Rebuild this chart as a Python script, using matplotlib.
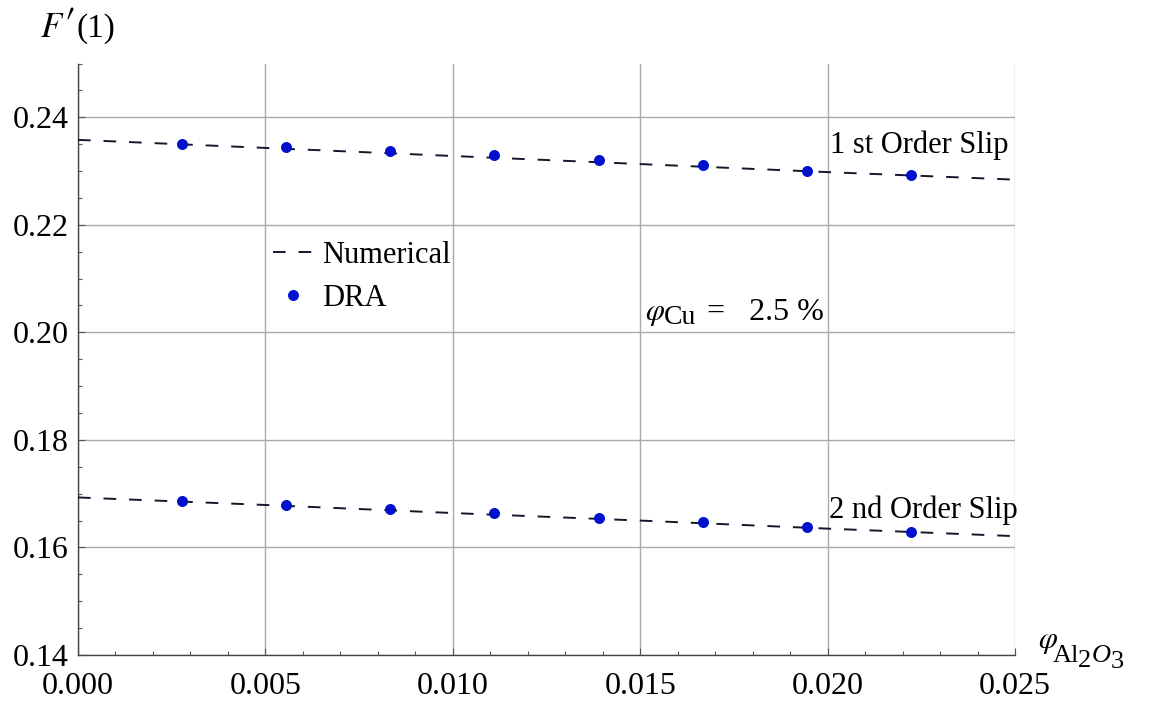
import numpy as np
import matplotlib
matplotlib.use('Agg')
import matplotlib.pyplot as plt
from matplotlib.ticker import MultipleLocator, FormatStrFormatter

plt.rcParams['font.family'] = ['Liberation Serif', 'DejaVu Serif']
plt.rcParams['mathtext.fontset'] = 'stix'
plt.rcParams['lines.scale_dashes'] = False

# --- data ---
phi_al2o3 = [0.00278, 0.00556, 0.00833, 0.01111, 0.01389, 0.01667, 0.01944, 0.02222]
dra_first = [0.2351, 0.2344, 0.2337, 0.2330, 0.2320, 0.2311, 0.2301, 0.2292]
dra_second = [0.1687, 0.1679, 0.1672, 0.1664, 0.1655, 0.1648, 0.1638, 0.1629]

num_x = [0.0, 0.005, 0.010, 0.015, 0.020, 0.025]
num_first = [0.2358, 0.2343, 0.2328, 0.2313, 0.2298, 0.2284]
num_second = [0.1693, 0.1679, 0.1664, 0.1650, 0.1635, 0.1621]

x_ticks = [0.0, 0.005, 0.010, 0.015, 0.020, 0.025]
y_ticks = [0.14, 0.16, 0.18, 0.20, 0.22, 0.24]

line_color = '#15152e'
dot_color = '#0010cc'
fs_tick = 23
fs = 22

fig = plt.figure(figsize=(11.5, 7.01), dpi=100, facecolor='white')
ax = fig.add_axes([78 / 1150, 46 / 701, 937 / 1150, 591.5 / 701])

# numerical solutions (dashed)
ln1, = ax.plot(num_x, num_first, color=line_color, lw=1.4, dashes=(9.1, 9.3), zorder=3)
ax.plot(num_x, num_second, color=line_color, lw=1.4, dashes=(9.1, 9.3), zorder=3)

# DRA points
dots1, = ax.plot(phi_al2o3, dra_first, 'o', color=dot_color, ms=6.9, zorder=4)
ax.plot(phi_al2o3, dra_second, 'o', color=dot_color, ms=6.9, zorder=4)

# axes styling (Mathematica look)
ax.set_xlim(0, 0.025)
ax.set_ylim(0.14, 0.25)
for s in ['top', 'right']:
    ax.spines[s].set_visible(False)
for s in ['left', 'bottom']:
    ax.spines[s].set_color('#444444')
    ax.spines[s].set_linewidth(1.0)

ax.set_xticks(x_ticks)
ax.set_yticks(y_ticks)
ax.xaxis.set_minor_locator(MultipleLocator(0.001))
ax.yaxis.set_minor_locator(MultipleLocator(0.005))
ax.xaxis.set_major_formatter(FormatStrFormatter('%.3f'))
ax.yaxis.set_major_formatter(FormatStrFormatter('%.2f'))
ax.tick_params(which='both', direction='in', color='#555555', width=0.8, labelsize=fs_tick)
ax.tick_params(which='major', length=5)
ax.tick_params(which='minor', length=3)
ax.tick_params(axis='y', which='major', pad=7)
ax.tick_params(axis='x', which='major', pad=12)

ax.grid(True, which='major', color='#aaaaaa', lw=1.0)
ax.set_axisbelow(True)

# labels on the curves
ax.text(0.02006, 0.2334, '1 st Order Slip', fontsize=fs, va='baseline', ha='left')
ax.text(0.02004, 0.1655, '2 nd Order Slip', fontsize=fs, va='baseline', ha='left')

# phi_Cu annotation
ax.annotate(r'$\varphi$', xy=(0.01513, 0.2023), xytext=(0, 0), textcoords='offset points',
            fontsize=fs, va='baseline', ha='left')
ax.annotate('Cu', xy=(0.01513, 0.2023), xytext=(13.5, -3.2), textcoords='offset points',
            fontsize=20, va='baseline', ha='left')
ax.annotate('=   2.5 %', xy=(0.01513, 0.2023), xytext=(44.6, 0), textcoords='offset points',
            fontsize=fs_tick, va='baseline', ha='left')

# legend
leg = ax.legend([ln1, dots1], ['Numerical', 'DRA'], loc='upper left',
                bbox_to_anchor=(273 / 1150, 1 - 241 / 701), bbox_transform=fig.transFigure,
                frameon=False, fontsize=fs, handlelength=1.3, handletextpad=0.3,
                labelspacing=0.45, borderpad=0, borderaxespad=0, numpoints=1)

# y axis label F'(1)
fig.text(40 / 1150, 1 - 37 / 701, r'$F$', fontsize=25, va='baseline', ha='left')
fig.text(63 / 1150, 1 - 35 / 701, r'$\prime$', fontsize=32, va='baseline', ha='left')
fig.text(77 / 1150, 1 - 37 / 701, '(1)', fontsize=24, va='baseline', ha='left')

# x axis label phi_Al2O3
xl_kw = dict(xy=(1.0, 0.0), xycoords='axes fraction', textcoords='offset points',
             va='baseline', ha='left', annotation_clip=False)
ax.annotate(r'$\varphi$', xytext=(16.6, 5.0), fontsize=fs, **xl_kw)
ax.annotate('Al', xytext=(27.4, -5.0), fontsize=19, **xl_kw)
ax.annotate('2', xytext=(45.4, -8.6), fontsize=19, **xl_kw)
ax.annotate('O', xytext=(55.4, -5.0), fontsize=19, fontstyle='italic', **xl_kw)
ax.annotate('3', xytext=(69.0, -9.4), fontsize=19, **xl_kw)

fig.savefig('out.png', dpi=100, facecolor='white')
